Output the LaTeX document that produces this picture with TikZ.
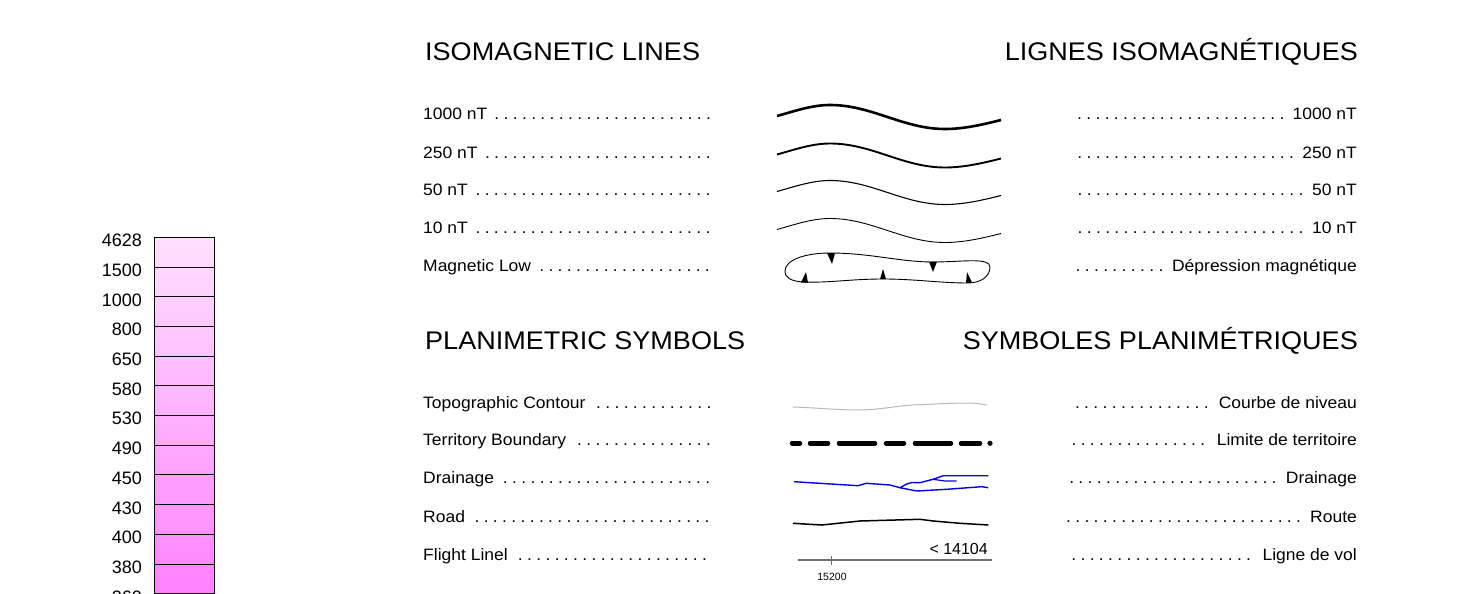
\documentclass[tikz,border=0pt]{standalone}
\usepackage{fontspec}
\setmainfont{Liberation Sans}
\newfontfamily\widefont[FakeStretch=1.06]{Liberation Sans}
\definecolor{ramptop}{RGB}{255,224,255}
\definecolor{rampbot}{RGB}{255,128,255}
\definecolor{drainblue}{RGB}{0,0,240}
\definecolor{contourgray}{RGB}{185,185,185}
\definecolor{flightgray}{RGB}{110,110,110}
\newcommand\dotlead{\cleaders\hbox to 9.2pt{\hss.\hss}\hfill}
\newcommand\lrow[4]{\node[lab, anchor=base west] (#1) at (423,#2) {\hbox to \dimexpr#3pt-423pt\relax{#4\ \dotlead}};}
\newcommand\rrow[4]{\node[lab, anchor=base east] (#1) at (1357,#2) {\hbox to \dimexpr1357pt-#3pt\relax{\dotlead\ #4}};}
\begin{document}
\begin{tikzpicture}[x=1pt,y=-1pt,
  lab/.style={inner sep=0pt, font=\widefont\fontsize{16.5}{19}\selectfont},
  head/.style={inner sep=0pt, font=\widefont\fontsize{25.5}{30}\selectfont},
  rampnum/.style={inner sep=0pt, anchor=base east, font=\fontsize{18}{21}\selectfont},
  boundary/.style={line width=4.5pt, line cap=round},
]
\useasboundingbox (0,0) rectangle (1459,594);

% ---- colour ramp ----
\shade[top color=ramptop, bottom color=rampbot] (154.5,237.3) rectangle (214,600);
\draw[line width=1pt] (154.5,600) -- (154.5,237.3) -- (214,237.3) -- (214,600);
\foreach \k/\v in {0/4628,1/1500,2/1000,3/800,4/650,5/580,6/530,7/490,8/450,9/430,10/400,11/380,12/360}{
  \draw[line width=1pt] (154.5,237.3+29.7*\k) -- (214,237.3+29.7*\k);
  \node[rampnum] (r\k) at (142,246.7+29.7*\k) {\v};
}

% ---- headings ----
\node[head, anchor=base west] (h1) at (425,60.7) {ISOMAGNETIC LINES};
\node[head, anchor=base east] (h2) at (1358,60.7) {LIGNES ISOMAGNÉTIQUES};
\node[head, anchor=base west] (h3) at (425,349.5) {PLANIMETRIC SYMBOLS};
\node[head, anchor=base east] (h4) at (1358,349.5) {SYMBOLES PLANIMÉTRIQUES};

% ---- isomagnetic rows ----
\lrow{a1}{119}{713}{1000 nT}
\lrow{a2}{158}{713}{250 nT}
\lrow{a3}{195}{713}{50 nT}
\lrow{a4}{233}{713}{10 nT}
\lrow{a5}{271}{713}{Magnetic Low}
\rrow{b1}{119}{1074}{1000 nT}
\rrow{b2}{158}{1074}{250 nT}
\rrow{b3}{195}{1074}{50 nT}
\rrow{b4}{233}{1074}{10 nT}
\rrow{b5}{271}{1072}{Dépression magnétique}

% ---- planimetric rows ----
\lrow{c1}{408}{717}{Topographic Contour}
\lrow{c2}{445}{717}{Territory Boundary}
\lrow{c3}{483}{714}{Drainage}
\lrow{c4}{522}{714}{Road}
\lrow{c5}{560}{712}{Flight Linel}
\rrow{d1}{408}{1070}{Courbe de niveau}
\rrow{d2}{445}{1065}{Limite de territoire}
\rrow{d3}{483}{1065}{Drainage}
\rrow{d4}{522}{1062}{Route}
\rrow{d5}{560}{1065}{Ligne de vol}

% ---- isomagnetic line symbols ----
\foreach \dy/\w in {0/2.6pt,38.5/1.9pt,75.5/1.1pt,113.5/0.9pt}{
  \draw[line width=\w] (777,116+\dy) .. controls (795,111+\dy) and (812,105+\dy) .. (830,105+\dy)
     .. controls (872,105+\dy) and (903,129+\dy) .. (945,129+\dy)
     .. controls (965,129+\dy) and (985,124+\dy) .. (1001,120+\dy);
}
% magnetic low
\draw[line width=0.9pt] (785,271) .. controls (785,260) and (805,253) .. (830,253)
   .. controls (870,253) and (900,262) .. (933,262)
   .. controls (962,262) and (990,257) .. (990,267)
   .. controls (990,277) and (980,283) .. (968,283)
   .. controls (940,283) and (915,279) .. (883,279)
   .. controls (850,279) and (830,283) .. (803,282)
   .. controls (791,281) and (785,278) .. (785,271) -- cycle;
\fill (827,253) -- (835,253.3) -- (832,264) -- cycle;
\fill (929,261.8) -- (937,261.6) -- (933,272) -- cycle;
\fill (801,282.5) -- (808,282.8) -- (806,272) -- cycle;
\fill (880,279.2) -- (886,279) -- (883,269) -- cycle;
\fill (966,283) -- (972,282.5) -- (967,272) -- cycle;

% ---- planimetric symbols ----
% contour
\draw[contourgray, line width=1pt] (793,407) .. controls (820,408) and (840,410) .. (857,410)
   .. controls (880,410) and (895,406) .. (913,405) .. controls (935,404) and (955,403) .. (967,403)
   .. controls (975,403) and (982,404) .. (987,405);
% territory boundary
\draw[boundary] (792,443.3) -- (800,443.3) (810,443.3) -- (828,443.3) (839,443.3) -- (875,443.3)
   (886,443.3) -- (904,443.3) (915,443.3) -- (951,443.3) (961,443.3) -- (980,443.3);
\fill (990,443.3) circle (2.6);
% drainage
\draw[drainblue, line width=1.4pt, line join=round]
   (794,481.7) -- (858.3,485.7) -- (866,483.3) -- (890,485) -- (900,487.7) -- (916.7,491)
   -- (946.7,489.3) -- (981.7,486.7) -- (988.3,487.7);
\draw[drainblue, line width=1.4pt, line join=round]
   (900,487.7) -- (906.7,484) -- (912,482.5) -- (920,482.7) -- (933,479.3) -- (943.3,475.7) -- (988.3,475.7);
\draw[drainblue, line width=1.2pt, line join=round]
   (933,479.3) -- (945,481) -- (956.7,481);
% road
\draw[line width=1.5pt, line join=round] (793,523.3) -- (821.7,525) -- (860,521) -- (920,519.3)
   -- (933.3,521) -- (960,523.3) -- (988.3,525);
% flight line
\draw[flightgray, line width=1.1pt] (798,560) -- (992,560);
\draw[flightgray, line width=1.1pt] (831.7,555.5) -- (831.7,564.5);
\node[inner sep=0pt, anchor=base, font=\fontsize{10.5}{12}\selectfont] (fl1) at (832,580) {15200};
\node[inner sep=0pt, anchor=base east, font=\fontsize{16}{19}\selectfont] (fl2) at (988,554) {< 14104};
\end{tikzpicture}
\end{document}
